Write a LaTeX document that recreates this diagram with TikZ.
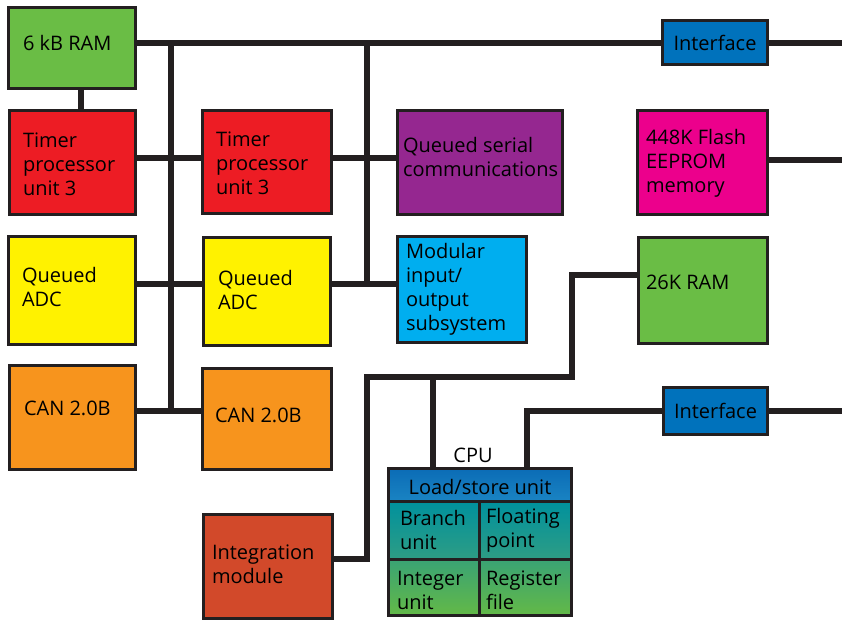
\documentclass[tikz,border=0pt]{standalone}
\usepackage{fontspec}
\setmainfont{Open Sans}
\definecolor{linec}{HTML}{231F20}
\definecolor{cgreen}{HTML}{6ABD45}
\definecolor{cred}{HTML}{ED1C24}
\definecolor{cpurple}{HTML}{952790}
\definecolor{cmagenta}{HTML}{EC008C}
\definecolor{cblue}{HTML}{0072BC}
\definecolor{cyellow}{HTML}{FFF200}
\definecolor{ccyan}{HTML}{00AEEF}
\definecolor{corange}{HTML}{F7941D}
\definecolor{cbrick}{HTML}{D2492A}
\definecolor{cls1}{HTML}{0B6CB6}
\definecolor{cls2}{HTML}{1A84C3}
\definecolor{cteal1}{HTML}{00919D}
\definecolor{cteal2}{HTML}{2E9D84}
\definecolor{cgr1}{HTML}{3AA374}
\definecolor{cgr2}{HTML}{63B947}
\begin{document}
\begin{tikzpicture}[x=1pt,y=-1pt,
  box/.style={draw=linec, line width=3pt, inner sep=0pt, outer sep=0pt},
  txt/.style={inner sep=0pt, outer sep=0pt, align=left, anchor=west, text=black,
              font=\fontsize{20}{24}\selectfont},
  ctxt/.style={txt, anchor=center, align=center},
  bus/.style={draw=linec, line width=6.5pt, line join=miter}]
\useasboundingbox (0,0) rectangle (842,621);

% ---------- boxes ----------
\node[box, fill=cgreen,   minimum width=127pt, minimum height=81pt]  (ram6)  at (72,48)    {};
\node[box, fill=cred,     minimum width=126pt, minimum height=104pt] (tpu1)  at (72.5,162.5) {};
\node[box, fill=cred,     minimum width=129pt, minimum height=103pt] (tpu2)  at (267,162) {};
\node[box, fill=cpurple,  minimum width=165pt, minimum height=104pt] (qsc)   at (480,162.5) {};
\node[box, fill=cblue,    minimum width=105pt, minimum height=44pt]  (if1)   at (715,42.5) {};
\node[box, fill=cmagenta, minimum width=130pt, minimum height=104pt] (flash) at (702.5,162.5) {};
\node[box, fill=cyellow,  minimum width=127pt, minimum height=108pt] (adc1)  at (72,290.5) {};
\node[box, fill=cyellow,  minimum width=127pt, minimum height=108pt] (adc2)  at (267,291.5) {};
\node[box, fill=ccyan,    minimum width=129pt, minimum height=106pt] (mio)   at (462,289.5) {};
\node[box, fill=cgreen,   minimum width=129pt, minimum height=106pt] (ram26) at (703,290.5) {};
\node[box, fill=cblue,    minimum width=104pt, minimum height=47pt]  (if2)   at (715.5,411) {};
\node[box, fill=corange,  minimum width=126pt, minimum height=104pt] (can1)  at (72.5,417.5) {};
\node[box, fill=corange,  minimum width=129pt, minimum height=101pt] (can2)  at (267,419) {};
\node[box, fill=cbrick,   minimum width=129pt, minimum height=104pt] (integ) at (268,566.5) {};

% ---------- CPU ----------
\node[box, top color=cls1, bottom color=cls2, minimum width=183pt, minimum height=33pt] (lsu) at (480,485) {};
\node[box, top color=cteal1, bottom color=cteal2, minimum width=91pt, minimum height=58pt] (bru) at (434,530.5) {};
\node[box, top color=cteal1, bottom color=cteal2, minimum width=92pt, minimum height=58pt] (fpu) at (525.5,530.5) {};
\node[box, top color=cgr1, bottom color=cgr2, minimum width=91pt, minimum height=56pt] (intu) at (434,587.5) {};
\node[box, top color=cgr1, bottom color=cgr2, minimum width=92pt, minimum height=56pt] (regf) at (525.5,587.5) {};
\node[box, minimum width=183pt, minimum height=147pt] (cpu) at (480,542) {};

% ---------- bus coordinates ----------
\coordinate (yTop) at (0,43);
\coordinate (yTim) at (0,158);
\coordinate (yAdc) at (0,284);
\coordinate (yCan) at (0,411);
\coordinate (yFl)  at (0,160);
\coordinate (xA)   at (81,0);
\coordinate (xC)   at (433,0);
\coordinate (xD)   at (527,0);
\coordinate (eTop) at (842,43);
\coordinate (eFl)  at (842,160);
\coordinate (eIf2) at (842,411);
\coordinate (jTopB1) at (171,43);
\coordinate (jCanB1) at (171,411);
\coordinate (jTopB2) at (367,43);
\coordinate (jAdcB2) at (367,284);
\coordinate (kL)   at (367,377);
\coordinate (kR)   at (572,377);
\coordinate (kRt)  at (572,275);
\coordinate (kC)   at (433,377);
\coordinate (kIn)  at (367,559);
\coordinate (kD)   at (527,411);

% ---------- connectors ----------
\draw[bus] (ram6.east |- yTop) -- (if1.west |- yTop);
\draw[bus] (if1.east |- yTop) -- (eTop);
\draw[bus] (ram6.south -| xA) -- (tpu1.north -| xA);
\draw[bus] (jTopB1) -- (jCanB1);
\draw[bus] (jTopB2) -- (jAdcB2);
\draw[bus] (tpu1.east |- yTim) -- (tpu2.west |- yTim);
\draw[bus] (tpu2.east |- yTim) -- (qsc.west |- yTim);
\draw[bus] (adc1.east |- yAdc) -- (adc2.west |- yAdc);
\draw[bus] (adc2.east |- yAdc) -- (mio.west |- yAdc);
\draw[bus] (can1.east |- yCan) -- (can2.west |- yCan);
\draw[bus] (flash.east |- yFl) -- (eFl);
\draw[bus] (if2.east) -- (eIf2);
\draw[bus] (if2.west) -- (kD) -- (cpu.north -| kD);
\draw[bus] (integ.east |- kIn) -- (kIn) -- (kL) -- (kR) -- (kRt) -- (ram26.west |- kRt);
\draw[bus] (kC) -- (cpu.north -| kC);

% ---------- texts ----------
\node[txt] (t-ram6)  at (23,43)    {6 kB RAM};
\node[txt] (t-tpu1)  at (23,164)   {Timer\\processor\\unit 3};
\node[txt] (t-tpu2)  at (216,163.5){Timer\\processor\\unit 3};
\node[txt] (t-qsc)   at (403,156.5){Queued serial\\communications};
\node[ctxt] (t-if1)  at (715,43)   {Interface};
\node[txt] (t-flash) at (646,163)  {448K Flash\\EEPROM\\memory};
\node[txt] (t-adc1)  at (22,286.5) {Queued\\ADC};
\node[txt] (t-adc2)  at (218,289.5){Queued\\ADC};
\node[txt] (t-mio)   at (406,289)  {Modular\\input/\\output\\subsystem};
\node[txt] (t-ram26) at (646,282)  {26K RAM};
\node[ctxt] (t-if2)  at (715.5,411){Interface};
\node[txt] (t-can1)  at (24,408.7) {CAN 2.0B};
\node[txt] (t-can2)  at (215,415)  {CAN 2.0B};
\node[txt] (t-integ) at (212,564)  {Integration\\module};
\node[ctxt] (t-cpu)  at (473,455)  {CPU};
\node[ctxt] (t-lsu)  at (480,487)  {Load/store unit};
\node[txt] (t-bru)   at (400,530)  {Branch\\unit};
\node[txt] (t-fpu)   at (486,530)  {Floating\\point};
\node[txt] (t-intu)  at (397,590.5){Integer\\unit};
\node[txt] (t-regf)  at (486,590)  {Register\\file};
\end{tikzpicture}
\end{document}
